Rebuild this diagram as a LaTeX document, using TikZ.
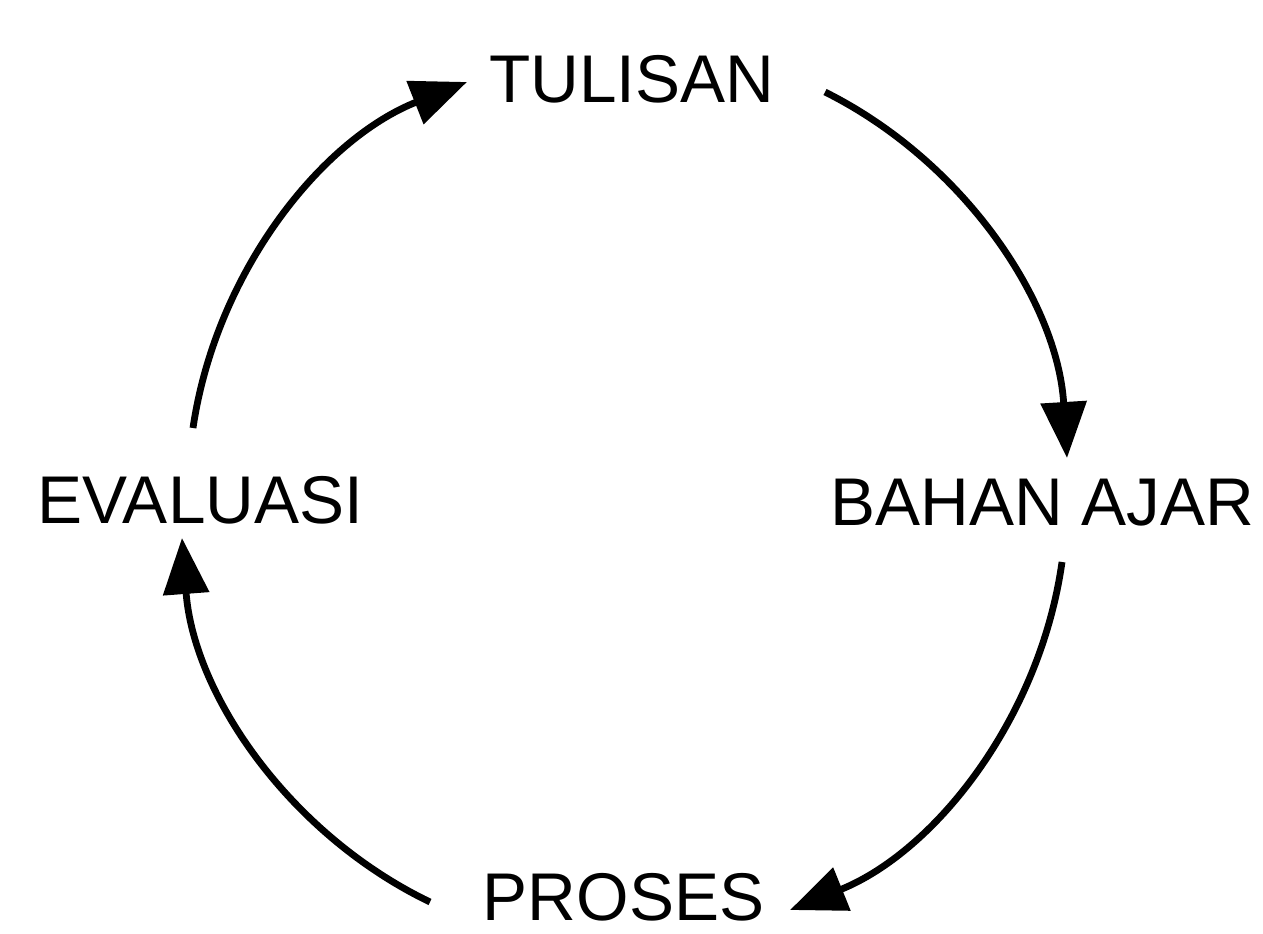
\documentclass[tikz,border=0pt]{standalone}
\usepackage{fontspec}
\setmainfont{Liberation Sans}
\usetikzlibrary{arrows.meta}
\begin{document}
\begin{tikzpicture}[x=0.5pt,y=0.5pt,
  lbl/.style={anchor=base,inner sep=0pt,font=\fontsize{33.75}{40}\selectfont},
  cyc/.style={line width=3.4pt,-{Triangle[length=28pt,width=22.5pt]},bend left=30,looseness=0.91}]
\useasboundingbox (0,0) rectangle (1263,933);
\node[lbl] (tul) at (632,830) {TULISAN};
\node[lbl] (eva) at (200.5,410) {EVALUASI};
\node[lbl] (bah) at (1042.5,408) {BAHAN AJAR};
\node[lbl] (pro) at (623.5,13) {PROSES};
\coordinate (a1s) at (193,505);
\coordinate (a1e) at (467,851);
\coordinate (a2s) at (825,841);
\coordinate (a2e) at (1067,475);
\coordinate (a3s) at (1062,371);
\coordinate (a3e) at (790,23);
\coordinate (a4s) at (430,31);
\coordinate (a4e) at (182,395);
\draw[cyc] (a1s) to (a1e);
\draw[cyc] (a2s) to (a2e);
\draw[cyc] (a3s) to (a3e);
\draw[cyc] (a4s) to (a4e);
\end{tikzpicture}
\end{document}
